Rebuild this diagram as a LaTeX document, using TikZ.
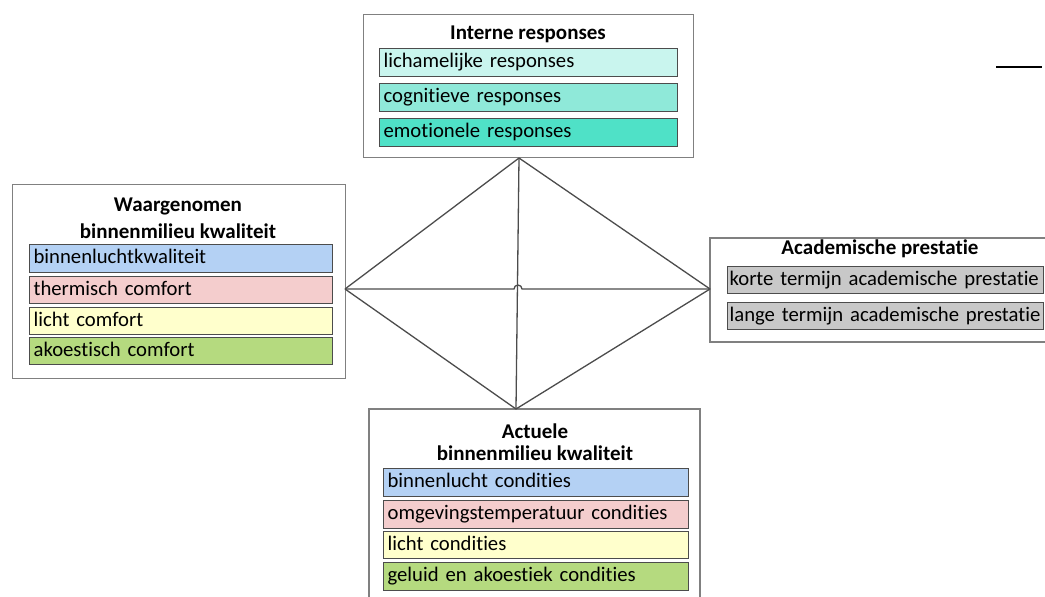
\documentclass[tikz,border=0pt]{standalone}
\usepackage{fontspec}
\setmainfont{Carlito}[Ligatures=NoCommon]
\begin{document}
\begin{tikzpicture}[x=1pt,y=-1pt,
  outerline/.style={draw=black!50, line width=1.2pt},
  item/.style={draw=black!70, line width=1.2pt, anchor=north west, inner sep=0pt,
    text height=14pt, text depth=4pt, font=\fontsize{20.7}{23}\selectfont, align=left},
  hdr/.style={font=\bfseries\fontsize{21}{24}\selectfont, inner sep=0pt},
  link/.style={draw=black!70, line width=1.3pt}]
\useasboundingbox (0,0) rectangle (1045,597);
\definecolor{c1}{HTML}{C9F5EE}
\definecolor{c2}{HTML}{8FE9D9}
\definecolor{c3}{HTML}{4FE1C7}
\definecolor{cb}{HTML}{B4D1F4}
\definecolor{cr}{HTML}{F4CDCD}
\definecolor{cy}{HTML}{FFFFCC}
\definecolor{cg}{HTML}{B5DA7F}
\definecolor{cgr}{HTML}{C8C8C8}
% top box
\node[outerline, anchor=north west, minimum width=330pt, minimum height=143pt, inner sep=0pt] (top) at (363,14) {};
\node[hdr] (toph) at (528,34) {Interne responses};
\node[item, fill=c1, minimum width=298pt, minimum height=28pt, text width=292pt] (t1) at (379,48) {\hspace*{1pt}lichamelijke responses};
\node[item, fill=c2, minimum width=298pt, minimum height=28pt, text width=292pt] (t2) at (379,83) {\hspace*{1pt}cognitieve responses};
\node[item, fill=c3, minimum width=298pt, minimum height=28pt, text width=292pt] (t3) at (379,118) {\hspace*{1pt}emotionele responses};
% left box
\node[outerline, anchor=north west, minimum width=333pt, minimum height=194pt, inner sep=0pt] (left) at (12,184) {};
\node[hdr] (lefth1) at (178,206) {Waargenomen};
\node[hdr] (lefth2) at (178,231) {binnenmilieu kwaliteit};
\node[item, fill=cb, minimum width=303pt, minimum height=28pt, text width=297pt] (l1) at (29,244) {\hspace*{1pt}binnenluchtkwaliteit};
\node[item, fill=cr, minimum width=303pt, minimum height=27pt, text width=297pt] (l2) at (29,276) {\hspace*{1pt}thermisch comfort};
\node[item, fill=cy, minimum width=303pt, minimum height=27pt, text width=297pt] (l3) at (29,307) {\hspace*{1pt}licht comfort};
\node[item, fill=cg, minimum width=303pt, minimum height=27pt, text width=297pt] (l4) at (29,337) {\hspace*{1pt}akoestisch comfort};
% right box
\draw[outerline] (1046,238) -| (710,342) -- (1046,342);
\coordinate (rightw) at (710,289);
\node[hdr] (righth) at (880,249) {Academische prestatie};
\node[item, fill=cgr, minimum width=316pt, minimum height=27pt, text width=314pt] (r1) at (727,266) {\hspace*{1pt}korte termijn academische prestatie};
\node[item, fill=cgr, minimum width=316pt, minimum height=27pt, text width=314pt] (r2) at (727,302) {\hspace*{1pt}lange termijn academische prestatie};
% bottom box
\draw[outerline] (369,598) |- (700,409) -- (700,598);
\node[hdr] (both1) at (535,431) {Actuele};
\node[hdr] (both2) at (535,453) {binnenmilieu kwaliteit};
\node[item, fill=cb, minimum width=305pt, minimum height=28pt, text width=299pt] (b1) at (383,468) {\hspace*{1pt}binnenlucht condities};
\node[item, fill=cr, minimum width=305pt, minimum height=28pt, text width=299pt] (b2) at (383,500) {\hspace*{1pt}omgevingstemperatuur condities};
\node[item, fill=cy, minimum width=305pt, minimum height=27pt, text width=299pt] (b3) at (383,531) {\hspace*{1pt}licht condities};
\node[item, fill=cg, minimum width=305pt, minimum height=28pt, text width=299pt] (b4) at (383,562) {\hspace*{1pt}geluid en akoestiek condities};
% diamond vertices
\coordinate (T) at (519,158);
\coordinate (L) at (345,289);
\coordinate (R) at (rightw);
\coordinate (B) at (516,409);
\coordinate (H1) at (514,289);
\coordinate (H2) at (522,289);
\draw[link] (T) -- (L);
\draw[link] (T) -- (R);
\draw[link] (L) -- (B);
\draw[link] (R) -- (B);
\draw[link] (T) -- (B);
\draw[link] (L) -- (H1) arc[start angle=180, end angle=0, radius=4pt] -- (R);
% stray line
\coordinate (s1) at (996,67);
\coordinate (s2) at (1042,67);
\draw[line width=1.3pt] (s1) -- (s2);
\end{tikzpicture}
\end{document}
